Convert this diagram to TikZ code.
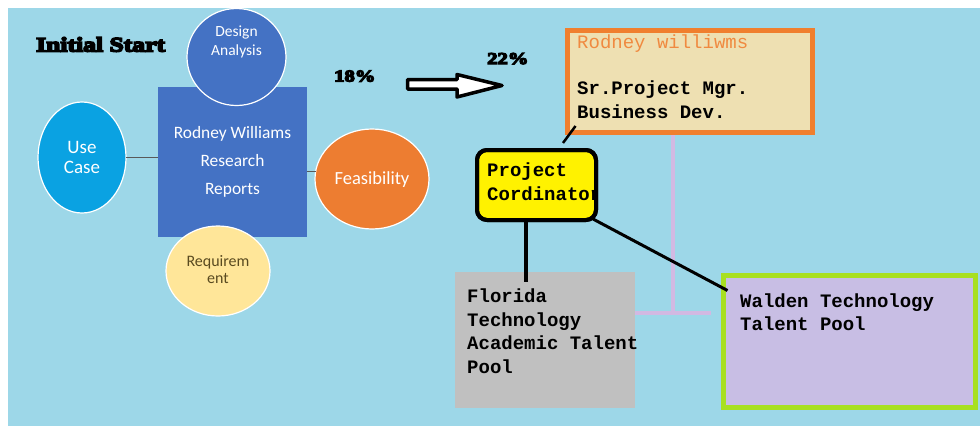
\documentclass[tikz,border=0pt]{standalone}
\usepackage{fontspec}
\setmainfont{Carlito}
\newfontfamily\calfont{Carlito}
\newfontfamily\cour{Liberation Mono}
\newfontfamily\heavyfont[BoldFeatures={FakeBold=8,FakeStretch=1.25}]{Liberation Serif}
\usetikzlibrary{shapes.geometric,calc}
\definecolor{bgblue}{HTML}{9DD7E8}
\definecolor{dblue}{HTML}{4472C4}
\definecolor{ucblue}{HTML}{0AA2E2}
\definecolor{feaor}{HTML}{ED7D31}
\definecolor{reqy}{HTML}{FFE699}
\definecolor{reqtxt}{HTML}{5A4B20}
\definecolor{rodfill}{HTML}{EEE0B2}
\definecolor{rodor}{HTML}{F07F2E}
\definecolor{rodtxt}{HTML}{F08A40}
\definecolor{pcy}{HTML}{FFF200}
\definecolor{flgray}{HTML}{C0C0C0}
\definecolor{walfill}{HTML}{C8BEE4}
\definecolor{walgreen}{HTML}{A8E020}
\definecolor{lavc}{HTML}{D2B9E2}
\tikzset{
  bubble/.style={ellipse, draw=white, line width=1.2pt, inner sep=0pt, outer sep=0pt},
  caltxt/.style={text=white, align=center, inner sep=0pt},
  boxbase/.style={rectangle, inner sep=0pt, outer sep=0pt},
  monotxt/.style={font=\cour\bfseries\fontsize{19}{23.5}\selectfont, align=left, anchor=base west, inner sep=0pt},
  heavytxt/.style={font=\heavyfont\bfseries, anchor=base west, inner sep=0pt},
  blkline/.style={draw=black, line width=3pt},
  lavline/.style={draw=lavc, line width=4pt},
  greyline/.style={draw=black!65, line width=1pt}
}
\begin{document}
\begin{tikzpicture}[x=1pt,y=-1pt]
\useasboundingbox (0,0) rectangle (980,426);
\fill[bgblue] (8,8) rectangle (980,426);

% lavender connectors (behind)
\node[boxbase, minimum width=180pt, minimum height=136pt] (fl) at (545,340) {};
\node[boxbase, minimum width=245pt, minimum height=102pt] (rod) at (690,81.5) {};
\node[boxbase, minimum width=252pt, minimum height=132pt] (wa) at (849.5,341.5) {};
\coordinate (lj) at ($(rod.south)+(-17,0)$);
\draw[lavline] (lj) -- (lj |- 0,313);
\draw[lavline] ($(fl.east)+(-3,-27)$) -- ($(wa.west)+(-13,-28.5)$);

% left cluster
\node[boxbase, fill=dblue, minimum width=149pt, minimum height=150pt] (rect) at (232.5,162) {};
\node[caltxt, font=\calfont\fontsize{17.4}{28}\selectfont] (rectt) at (rect.center) {Rodney Williams\\Research\\Reports};
\node[bubble, fill=dblue, minimum width=99pt, minimum height=97pt] (da) at (236.5,57) {};
\node[caltxt, font=\calfont\fontsize{15.5}{18.3}\selectfont] (dat) at ($(da.center)+(0,-15)$) {Design\\Analysis};
\node[bubble, fill=ucblue, minimum width=88pt, minimum height=111pt] (uc) at (82,157.5) {};
\node[caltxt, font=\calfont\fontsize{19}{20.7}\selectfont] (uct) at (uc.center) {Use\\Case};
\node[bubble, fill=feaor, minimum width=114pt, minimum height=100pt] (fe) at (372,179) {};
\node[caltxt, font=\calfont\fontsize{18.5}{22}\selectfont] (fet) at ($(fe.center)+(0,1)$) {Feasibility};
\node[bubble, fill=reqy, minimum width=104pt, minimum height=90pt] (rq) at (218,271) {};
\node[caltxt, text=reqtxt, font=\calfont\fontsize{16}{17.3}\selectfont] (rqt) at ($(rq.center)+(0,-1.5)$) {Requirem\\ent};
\draw[greyline] (uc.east) -- (uc.east -| rect.west);
\draw[greyline] ($(rect.east)+(0,9.5)$) -- ($(rect.east)+(8.5,9.5)$);

% headings
\node[heavytxt, font=\heavyfont\bfseries\fontsize{20.5}{24}\selectfont] (init) at (36,51.5) {Initial Start};
\node[heavytxt, font=\heavyfont\bfseries\fontsize{16.5}{20}\selectfont] (p18) at (334,81.5) {18\%};
\node[heavytxt, font=\heavyfont\bfseries\fontsize{16.5}{20}\selectfont] (p22) at (487,64) {22\%};

% block arrow
\draw[fill=white, draw=black, line width=3.5pt, line join=round]
  (407.5,79.5) -- (457,79.5) -- (457,74.5) -- (502,85.5) -- (457,97) -- (457,89) -- (407.5,89) -- cycle;

% right boxes
\draw[fill=rodfill, draw=rodor, line width=5pt] (rod.north west) rectangle (rod.south east);
\node[monotxt] (rodt) at (577,118) {{\mdseries\color{rodtxt}Rodney williwms}\\[23pt]Sr.Project Mgr.\\Business Dev.};

\node[boxbase, fill=pcy, draw=black, line width=4pt, rounded corners=10pt, minimum width=119pt, minimum height=70pt] (pc) at (536.5,185) {};
\begin{scope}
  \clip[rounded corners=10pt] (pc.north west) rectangle (pc.south east);
  \node[monotxt, font=\cour\bfseries\fontsize{19}{24}\selectfont] (pct) at (487,200) {Project\\Cordinator};
\end{scope}
\draw[draw=black, line width=4pt, rounded corners=10pt] (pc.north west) rectangle (pc.south east);

\fill[flgray] (fl.north west) rectangle (fl.south east);
\node[monotxt] (flt) at (467,373) {Florida\\Technology\\Academic Talent\\Pool};

\draw[fill=walfill, draw=walgreen, line width=5pt] (wa.north west) rectangle (wa.south east);
\node[monotxt] (wat) at (740,330.5) {Walden Technology\\Talent Pool};

% black connectors
\draw[blkline, line width=2.5pt] ($(rod.south west)+(8,-6.5)$) -- ($(pc.north west)+(86,-7)$);
\draw[blkline, line width=3.5pt] ($(pc.south)+(-10.5,0)$) -- ($(fl.north)+(-19,10)$);
\draw[blkline] ($(pc.south east)+(-3,-1)$) -- ($(wa.north west)+(4,15)$);
\end{tikzpicture}
\end{document}
